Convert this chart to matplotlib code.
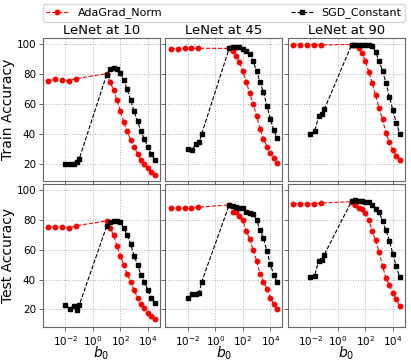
import numpy as np
import matplotlib
matplotlib.use("Agg")
import matplotlib.pyplot as plt
from matplotlib.ticker import FixedLocator, NullLocator, LogFormatterSciNotation

# b0 values (AdaGrad_Norm and SGD_Constant share the large-b0 grid)
b0_ada_small = [5.6e-4, 1.8e-3, 5.6e-3, 1.8e-2, 5.6e-2]
b0_sgd_small = [0.01, 0.02, 0.04, 0.065, 0.1]
b0_large = [10, 18, 32, 56, 100, 178, 316, 562, 1000, 1778, 3162, 5623, 10000, 17783, 31623]

ada_x = b0_ada_small + b0_large
sgd_x = b0_sgd_small + b0_large

titles = ["LeNet at 10", "LeNet at 45", "LeNet at 90"]
row_labels = ["Train Accuracy", "Test Accuracy"]
xticks = [1e-2, 1e0, 1e2, 1e4]
yticks = [20, 40, 60, 80, 100]

# train accuracy
ada_train_10 = [75.6, 76.5, 76.0, 75.6, 76.9, 80.3, 74.7, 69.3, 62.6, 55.2, 47.8, 41.7, 36.1, 31.2, 26.7, 22.7, 19.5, 16.8, 14.6, 12.6]
sgd_train_10 = [19.8, 19.8, 20.0, 20.9, 23.2, 79.6, 83.2, 83.9, 83.2, 80.5, 76.0, 69.7, 62.6, 55.2, 48.4, 41.7, 36.6, 31.0, 26.5, 22.7]
ada_train_45 = [97.1, 97.1, 97.2, 97.2, 97.3, 97.2, 95.5, 92.4, 87.9, 82.1, 74.5, 67.3, 59.7, 52.2, 43.1, 36.4, 31.4, 27.2, 23.5, 20.7]
sgd_train_45 = [29.9, 29.4, 33.4, 34.3, 40.0, 97.2, 98.1, 98.2, 97.9, 97.0, 95.5, 93.5, 88.6, 81.8, 74.7, 67.8, 58.8, 50.0, 42.4, 36.9]
ada_train_90 = [99.6, 99.6, 99.6, 99.6, 99.6, 99.8, 99.5, 97.7, 94.4, 88.8, 81.6, 74.2, 65.7, 57.4, 49.6, 40.6, 34.3, 29.4, 25.4, 22.5]
sgd_train_90 = [40.0, 41.7, 51.8, 53.0, 56.3, 99.7, 99.8, 99.8, 99.8, 99.8, 99.6, 98.9, 94.9, 88.8, 82.1, 74.2, 64.8, 56.0, 47.4, 40.1]

# test accuracy
ada_test_10 = [75.2, 75.2, 75.2, 74.5, 76.0, 79.3, 74.6, 69.6, 62.8, 55.6, 49.8, 43.7, 38.5, 33.1, 27.9, 23.9, 20.9, 17.8, 15.5, 13.3]
sgd_test_10 = [22.8, 20.5, 22.3, 19.6, 22.8, 75.7, 78.6, 79.3, 79.3, 78.6, 74.6, 69.6, 64.0, 56.1, 49.8, 43.0, 38.5, 33.1, 27.9, 24.0]
ada_test_45 = [87.6, 88.0, 87.6, 87.6, 88.5, 89.9, 85.4, 85.0, 82.7, 79.7, 72.3, 67.4, 59.5, 52.7, 43.7, 38.5, 33.6, 27.9, 23.4, 20.0]
sgd_test_45 = [27.9, 30.2, 30.2, 30.9, 38.5, 89.9, 89.0, 88.5, 88.0, 87.6, 85.0, 84.6, 83.6, 79.7, 73.0, 67.8, 58.8, 50.5, 43.0, 38.1]
ada_test_90 = [90.8, 90.8, 90.3, 90.8, 91.2, 92.2, 89.9, 88.1, 87.4, 84.9, 79.7, 72.3, 66.2, 58.4, 48.9, 41.2, 36.3, 30.9, 26.8, 22.3]
sgd_test_90 = [41.4, 42.6, 52.7, 53.1, 56.6, 92.6, 93.0, 92.8, 92.6, 92.2, 91.7, 89.9, 87.4, 85.4, 79.0, 73.0, 65.8, 57.2, 48.9, 41.4]

ada_rows = [[ada_train_10, ada_train_45, ada_train_90],
            [ada_test_10, ada_test_45, ada_test_90]]
sgd_rows = [[sgd_train_10, sgd_train_45, sgd_train_90],
            [sgd_test_10, sgd_test_45, sgd_test_90]]

fig, axes = plt.subplots(2, 3, figsize=(4.11, 3.62), dpi=100, sharex=True, sharey=True)
fig.subplots_adjust(left=0.1046, right=0.9854, top=0.895, bottom=0.0967,
                    wspace=0.047, hspace=0.0175)

for r in range(2):
    for c in range(3):
        ax = axes[r, c]
        ax.plot(ada_x, ada_rows[r][c], 'o--', color='red', lw=0.8, ms=3.2,
                label='AdaGrad_Norm')
        ax.plot(sgd_x, sgd_rows[r][c], 's--', color='black', lw=0.8, ms=3.0,
                label='SGD_Constant')
        ax.set_xscale('log')
        ax.xaxis.set_major_locator(FixedLocator(xticks))
        ax.xaxis.set_major_formatter(LogFormatterSciNotation())
        ax.xaxis.set_minor_locator(NullLocator())
        ax.grid(True, ls=':', lw=0.7, color='#b0b0b0')
        ax.tick_params(labelsize=7.5, length=3, width=0.6, color='#555555', pad=2)
        for s in ax.spines.values():
            s.set_color('#666666')
            s.set_linewidth(0.8)
        if r == 0:
            ax.set_title(titles[c], fontsize=9.5, pad=3)
        if c == 0:
            ax.set_ylabel(row_labels[r], fontsize=10)
            ax.yaxis.set_label_coords(-0.235, 0.5)
        if r == 1:
            ax.set_xlabel('$b_0$', fontsize=10)
            ax.xaxis.set_label_coords(0.5, -0.125)

axes[0, 0].set_yticks(yticks)

handles, labels = axes[0, 0].get_legend_handles_labels()
x0 = axes[0, 0].get_position().x0
x1 = axes[0, 2].get_position().x1
fig.legend(handles, labels, loc='lower left', ncol=2, mode='expand',
           bbox_to_anchor=(x0, 0.94, x1 - x0, 0.05), fontsize=8,
           frameon=True, borderaxespad=0, handlelength=2.0, borderpad=0.3)

fig.savefig('out.png', dpi=100)
